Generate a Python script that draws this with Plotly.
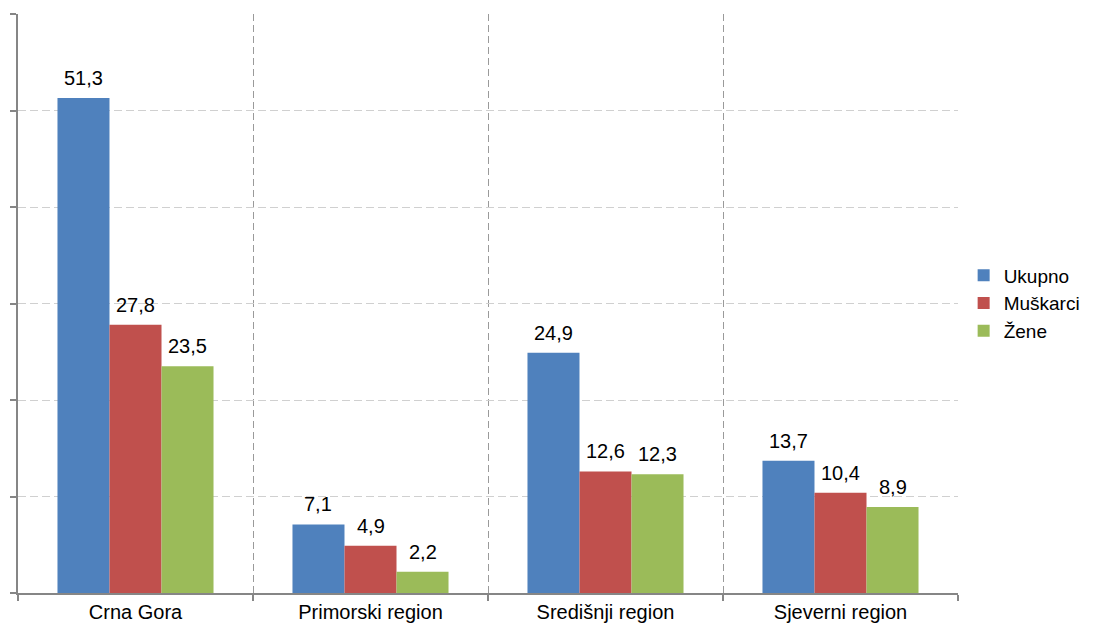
import plotly.graph_objects as go

categories = ["Crna Gora", "Primorski region", "Središnji region", "Sjeverni region"]
ukupno = [51.3, 7.1, 24.9, 13.7]
muskarci = [27.8, 4.9, 12.6, 10.4]
zene = [23.5, 2.2, 12.3, 8.9]

series = [("Ukupno", ukupno, "#4F81BD"), ("Muškarci", muskarci, "#C0504D"), ("Žene", zene, "#9BBB59")]

FONT = "Liberation Sans, Arial"
BARGAP = 0.336
# page body has an 8px margin, so the figure is offset to compensate
W, H = 1097, 627
L, R, T, B = 10, 147, 6, 42

fig = go.Figure()
for name, vals, color in series:
    fig.add_trace(go.Bar(
        x=categories, y=vals, name=name, marker=dict(color=color, line=dict(width=0)),
    ))

# data labels placed above each bar (offset per group slot)
cat_px = (W - L - R) / len(categories)
bar_px = cat_px * (1 - BARGAP) / len(series)
for i, (name, vals, color) in enumerate(series):
    for c, v in zip(categories, vals):
        fig.add_annotation(
            x=c, y=v, xref="x", yref="y", text=f"{v:.1f}".replace(".", ","),
            showarrow=False, yanchor="bottom", xanchor="center",
            xshift=(i - (len(series) - 1) / 2) * bar_px, yshift=7,
            font=dict(size=20, color="#000000", family=FONT),
        )

fig.update_layout(
    width=W, height=H,
    margin=dict(l=L, r=R, t=T, b=B, autoexpand=False),
    paper_bgcolor="white", plot_bgcolor="white",
    barmode="group", bargap=BARGAP, bargroupgap=0,
    font=dict(family=FONT, size=20, color="#000000"),
    showlegend=True,
    legend=dict(x=1.006, y=0.5, xanchor="left", yanchor="middle",
                font=dict(size=19), itemwidth=30, tracegroupgap=0),
)
fig.update_xaxes(
    type="category", tickson="boundaries", showgrid=True, gridcolor="#9a9a9a", griddash="7px,4px",
    gridwidth=1, showline=True, linecolor="#868686", linewidth=1.5,
    ticks="outside", ticklen=6, tickcolor="#868686", tickwidth=1.5,
    tickfont=dict(size=20), range=[-0.5, 3.5], automargin=False,
)
fig.update_yaxes(
    range=[0, 60], dtick=10, showgrid=True, gridcolor="#d0d0d0", griddash="8px,4px", gridwidth=1,
    showline=True, linecolor="#868686", linewidth=1.5,
    ticks="outside", ticklen=6, tickcolor="#868686", tickwidth=1.5,
    showticklabels=False, zeroline=False, automargin=False,
)
fig.write_html("out.html")
